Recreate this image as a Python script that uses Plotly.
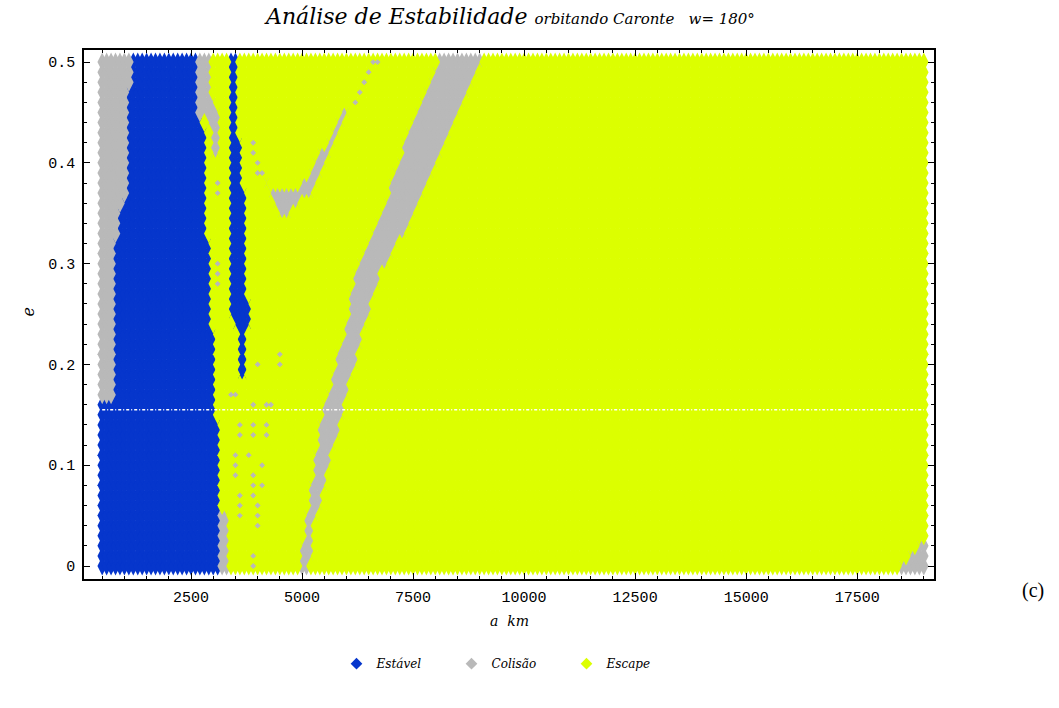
import numpy as np
import plotly.graph_objects as go

# Integration grid: semi-major axis a (km) and eccentricity e
a_km = np.arange(500, 19001, 100)
ecc = np.round(np.arange(0.0, 0.5001, 0.01), 2)

# Region outlines in (a [km], e)
estavel_interna = [(1150, 0.51), (2660, 0.51), (2680, 0.45), (2790, 0.445), (2850, 0.40),
                   (2880, 0.34), (2950, 0.30), (2960, 0.24), (3060, 0.235), (3100, 0.15),
                   (3130, 0.08), (3160, -0.01), (450, -0.01), (450, 0.163), (730, 0.17),
                   (740, 0.20), (760, 0.28), (800, 0.32), (870, 0.355), (1010, 0.37),
                   (1030, 0.45), (1100, 0.47)]
estavel_faixa = [(3330, 0.51), (3560, 0.51), (3580, 0.45), (3620, 0.40), (3740, 0.36),
                 (3740, 0.265), (3860, 0.26), (3860, 0.236), (3740, 0.236), (3740, 0.19),
                 (3600, 0.19), (3560, 0.236), (3400, 0.245), (3400, 0.33), (3360, 0.40),
                 (3330, 0.45)]

colisao_borda = [(450, 0.155), (450, 0.51), (1300, 0.51), (1300, 0.155)]
colisao_lingua = [(2650, 0.51), (2920, 0.51), (2950, 0.47), (3150, 0.455), (3180, 0.42),
                  (3050, 0.40), (2950, 0.41), (2880, 0.44), (2700, 0.45)]
colisao_v = [(4080, 0.388), (4370, 0.373), (4900, 0.373), (5000, 0.38), (5950, 0.455),
             (6150, 0.455), (5200, 0.367), (4800, 0.355), (4600, 0.344), (4440, 0.35)]
colisao_diagonal = [(8100, 0.51), (7300, 0.42), (6780, 0.354), (6170, 0.289), (5950, 0.233),
                    (5430, 0.154), (5250, 0.102), (5020, 0.036), (4910, -0.01), (5160, -0.01),
                    (5270, 0.036), (5650, 0.102), (5950, 0.154), (6400, 0.233), (6780, 0.289),
                    (7610, 0.354), (8290, 0.42), (9100, 0.51)]
colisao_base = [(3200, -0.01), (3320, -0.01), (3320, 0.055), (3200, 0.055)]
colisao_canto = [(18300, -0.01), (19100, -0.01), (19100, 0.035)]

# Scattered single collision orbits inside the escape zone
isolados_a = [3500, 3800, 4100, 4100, 3600, 3600, 4000, 3600, 4000, 4000, 3900, 3900,
              4200, 3900, 4200, 4000, 4500, 4500, 3500, 3900, 4200, 3400, 4300, 3600,
              3600, 3900, 3500, 3500, 3900, 3900, 3900, 3100, 3100, 3100, 3100, 3100,
              3900, 3900, 4000, 4000, 4100, 6200, 6300, 6400, 6500, 6600, 6700]
isolados_e = [0.11, 0.11, 0.10, 0.08, 0.07, 0.06, 0.06, 0.05, 0.05, 0.04, 0.01, 0.00,
              0.13, 0.14, 0.14, 0.20, 0.21, 0.20, 0.17, 0.16, 0.16, 0.17, 0.16, 0.14,
              0.13, 0.13, 0.10, 0.09, 0.09, 0.08, 0.07, 0.30, 0.29, 0.28, 0.38, 0.37,
              0.42, 0.41, 0.40, 0.39, 0.39, 0.46, 0.47, 0.48, 0.49, 0.50, 0.50]

linha_e = 0.155

x_ticks = [2500, 5000, 7500, 10000, 12500, 15000, 17500]
x_labels = ["2500", "5000", "7500", "10000", "12500", "15000", "17500"]
y_ticks = [0, 0.1, 0.2, 0.3, 0.4, 0.5]
y_labels = ["0", "0.1", "0.2", "0.3", "0.4", "0.5"]

nomes = ["Estável", "Colisão", "Escape"]
cores = ["#0636cc", "#b9b9b9", "#dcff00"]


def dentro(poly, px, py):
    poly = np.asarray(poly, float)
    xs, ys = poly[:, 0], poly[:, 1]
    res = np.zeros(px.shape, bool)
    j = len(poly) - 1
    with np.errstate(divide="ignore", invalid="ignore"):
        for i in range(len(poly)):
            cruza = (ys[i] > py) != (ys[j] > py)
            xc = (xs[j] - xs[i]) * (py - ys[i]) / (ys[j] - ys[i]) + xs[i]
            res ^= cruza & (px < xc)
            j = i
    return res


A, E = np.meshgrid(a_km, ecc)
classe = np.full(A.shape, 2)
for poly in [colisao_borda, colisao_lingua, colisao_v, colisao_diagonal, colisao_base, colisao_canto]:
    classe[dentro(poly, A, E)] = 1
for poly in [estavel_interna, estavel_faixa]:
    classe[dentro(poly, A, E)] = 0

fig = go.Figure()
for k in range(3):
    m = classe == k
    fig.add_trace(go.Scatter(
        x=A[m], y=E[m], mode="markers", showlegend=False, hoverinfo="skip",
        marker=dict(symbol="diamond-tall", size=13.6, color=cores[k], line=dict(width=0)),
    ))

fig.add_trace(go.Scatter(
    x=isolados_a, y=isolados_e, mode="markers", showlegend=False, hoverinfo="skip",
    marker=dict(symbol="diamond", size=4.5, color=cores[1], line=dict(width=0)),
))

for k in range(3):
    fig.add_trace(go.Scatter(
        x=[None], y=[None], mode="markers", name=nomes[k],
        marker=dict(symbol="diamond", size=9, color=cores[k], line=dict(width=0)),
    ))

fig.add_shape(type="line", x0=a_km[0], x1=a_km[-1], y0=linha_e, y1=linha_e,
              line=dict(color="white", width=1.5, dash="3px,2px,1px,2px"))

eixo = dict(showline=True, linecolor="black", linewidth=1.5, mirror="allticks",
            ticks="inside", ticklen=6, tickwidth=1, tickcolor="black",
            showgrid=False, zeroline=False,
            tickfont=dict(family="Liberation Mono", size=15, color="black"))

fig.update_xaxes(range=[90, 19230], tickvals=x_ticks, ticktext=x_labels, ticklabelstandoff=3,
                 minor=dict(ticks="inside", ticklen=3, dtick=500, tick0=0, tickcolor="black", showgrid=False),
                 **eixo)
fig.update_yaxes(range=[-0.0129, 0.512], tickvals=y_ticks, ticktext=y_labels, ticklabelstandoff=4,
                 minor=dict(ticks="inside", ticklen=3, dtick=0.02, tick0=0, tickcolor="black", showgrid=False),
                 **eixo)

fig.add_annotation(
    x=0.5, y=1.0624, xref="paper", yref="paper", showarrow=False, yanchor="middle",
    text="Análise de Estabilidade <span style='font-size:15px'>orbitando Caronte&nbsp;&nbsp; w= 180°</span>",
    font=dict(family="DejaVu Serif", style="italic", size=22, color="black"),
)
fig.add_annotation(
    x=0.5, y=-0.079, xref="paper", yref="paper", showarrow=False, yanchor="middle",
    text="a&nbsp; km", font=dict(family="DejaVu Serif", style="italic", size=14, color="black"),
)
fig.add_annotation(
    x=-0.065, y=0.505, xref="paper", yref="paper", showarrow=False, textangle=-90,
    xanchor="center", yanchor="middle",
    text="e", font=dict(family="DejaVu Serif", style="italic", size=16, color="black"),
)
fig.add_annotation(
    x=1.1165, y=-0.021, xref="paper", yref="paper", showarrow=False,
    xanchor="center", yanchor="middle",
    text="(c)", font=dict(family="Liberation Serif", size=20, color="black"),
)

fig.update_layout(
    width=1059, height=708,
    margin=dict(l=84, r=125, t=50, b=129),
    paper_bgcolor="white", plot_bgcolor="white",
    legend=dict(orientation="h", x=0.5, xanchor="center", y=-0.16, yanchor="middle",
                font=dict(family="DejaVu Serif", style="italic", size=12, color="black"),
                entrywidth=70, itemwidth=30),
)

fig.write_html("out.html")
